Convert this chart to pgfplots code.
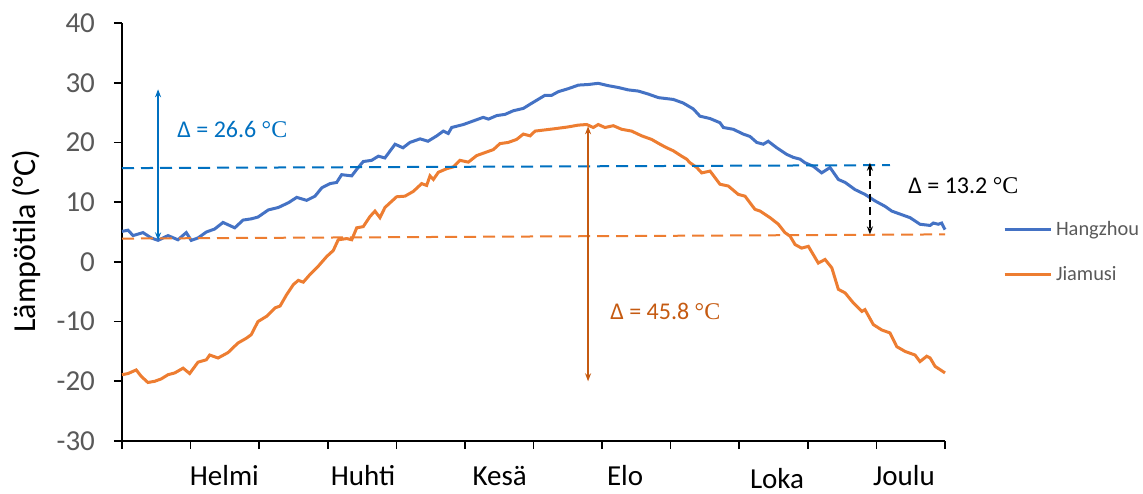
\documentclass[border=0pt]{standalone}
\usepackage{fontspec}
\setmainfont{Carlito}
\newfontfamily\serifsym{Liberation Serif}
\usepackage{pgfplots}
\pgfplotsset{compat=1.18}
\usetikzlibrary{arrows.meta}

\definecolor{hzblue}{HTML}{4472C4}
\definecolor{jmorange}{HTML}{ED7D31}
\definecolor{dblue}{HTML}{0070C0}
\definecolor{dbrown}{HTML}{C55A11}
\definecolor{ticktxt}{HTML}{595959}

\newcommand{\degC}{{\serifsym °C}}

\begin{document}
\begin{tikzpicture}
\useasboundingbox (0,0) rectangle (571.5pt,246.5pt);
\begin{axis}[
  at={(61pt,26pt)}, anchor=south west,
  scale only axis,
  width=411.5pt, height=209pt,
  xmin=0, xmax=365,
  ymin=-30, ymax=40,
  axis lines*=left,
  axis line style={black, line width=0.8pt},
  xtick={0,30.4167,60.8333,91.25,121.6667,152.0833,182.5,212.9167,243.3333,273.75,304.1667,334.5833,365},
  xticklabels={},
  ytick={-30,-20,-10,0,10,20,30,40},
  yticklabels={-30,-20,-10,0,10,20,30,40},
  tick align=outside,
  major tick length=4pt,
  tick style={black, line width=0.8pt},
  yticklabel style={text=ticktxt, font=\fontsize{14.5}{16}\selectfont, xshift=-6pt},
  clip=false,
  legend style={at={(1.070,0.452)}, anchor=west, draw=none, fill=none,
    font=\fontsize{10.2}{13}\selectfont, text=ticktxt, row sep=10pt, inner sep=0pt},
  legend cell align=left,
  legend image code/.code={\draw[#1] (0pt,0pt) -- (23pt,0pt);},
]
% Hangzhou
\addplot[hzblue, line width=1.5pt] coordinates {
(0,5.1)(2.7,5.3)(4.9,4.4)(9.3,4.9)(13.0,4.0)(16.0,3.6)(20.4,4.4)(24.8,3.7)
(28.5,4.9)(30.7,3.6)(33.7,4.0)(37.4,5.0)(41.1,5.5)(44.8,6.6)(50.0,5.7)(53.7,7.0)
(57.3,7.2)(60.3,7.5)(64.9,8.7)(69.3,9.1)(73.8,9.9)(77.5,10.8)(81.9,10.3)(85.6,11.0)
(88.6,12.4)(92.2,13.1)(95.2,13.3)(97.4,14.6)(101.9,14.4)(104.1,15.5)(107.0,16.8)
(110.7,17.0)(113.7,17.7)(116.6,17.4)(121.1,19.7)(124.6,19.1)(127.7,20.0)(132.2,20.6)
(135.7,20.2)(139.6,21.1)(142.5,21.9)(144.7,21.5)(146.2,22.5)(151.4,23.0)(155.8,23.6)
(160.2,24.2)(162.5,23.9)(166.2,24.5)(169.9,24.7)(173.5,25.3)(178.0,25.7)(181.0,26.4)
(183.2,26.9)(187.6,27.9)(190.6,27.9)(193.5,28.5)(197.9,29.0)(202.4,29.6)(206.8,29.7)
(211.2,29.9)(215.7,29.5)(220.1,29.2)(224.5,28.8)(229.0,28.6)(233.4,28.1)(237.9,27.5)
(244.5,27.2)(248.9,26.6)(253.4,25.6)(256.3,24.4)(260.8,24.0)(265.2,23.3)(266.7,22.5)
(271.1,22.2)(275.5,21.4)(278.5,21.0)(281.5,20.0)(284.4,19.7)(286.6,20.2)(290.4,19.1)
(294.8,18.0)(297.7,17.5)(300.7,17.2)(302.9,16.6)(306.6,16.0)(310.3,14.9)(314.0,15.8)
(317.7,13.8)(320.7,13.3)(325.1,12.1)(329.5,11.3)(334.0,10.2)(338.4,9.3)(341.4,8.5)
(345.8,7.9)(349.5,7.4)(353.9,6.3)(358.4,6.1)(359.8,6.5)(362.0,6.3)(363.5,6.5)(365.0,5.4)
};
% Jiamusi
\addplot[jmorange, line width=1.5pt] coordinates {
(0,-18.9)(2.7,-18.7)(6.3,-18.1)(8.6,-19.2)(11.5,-20.2)(14.5,-20.0)(17.4,-19.6)
(20.4,-18.9)(23.4,-18.6)(27.1,-17.8)(30.0,-18.7)(33.7,-16.8)(37.4,-16.4)(38.9,-15.6)
(42.6,-16.1)(47.0,-15.2)(51.4,-13.6)(55.1,-12.8)(57.3,-12.2)(60.3,-10.0)(64.2,-9.1)
(67.9,-7.7)(70.1,-7.4)(73.0,-5.5)(76.0,-3.8)(78.2,-3.1)(80.4,-3.4)(83.4,-2.1)
(87.1,-0.7)(90.8,0.9)(93.7,1.9)(95.9,3.7)(99.7,3.9)(101.9,3.7)(104.1,5.7)(107.0,5.9)
(110.0,7.6)(112.2,8.5)(114.4,7.4)(116.6,9.1)(118.9,9.9)(121.8,10.9)(125.5,11.0)
(129.2,11.8)(132.9,13.1)(135.1,12.8)(136.6,14.4)(138.1,13.8)(140.3,15.0)(144.0,15.6)
(146.9,15.9)(149.9,17.0)(153.6,16.7)(157.3,17.8)(161.0,18.3)(164.7,18.8)(167.6,19.8)
(171.3,20.0)(175.0,20.5)(178.0,21.4)(181.0,21.1)(183.2,21.9)(187.6,22.1)(192.0,22.3)
(197.9,22.6)(202.4,22.9)(206.1,23.0)(209.0,22.5)(211.2,23.0)(214.2,22.5)(217.9,22.8)
(221.6,22.2)(226.0,21.9)(230.5,21.1)(234.9,20.5)(238.6,19.7)(241.6,19.1)(244.5,18.6)
(248.2,17.7)(250.4,17.2)(251.9,16.6)(254.9,15.8)(257.1,14.9)(260.8,15.2)(265.2,13.0)
(268.9,12.7)(273.3,11.3)(276.3,11.0)(280.7,8.8)(283.0,8.5)(287.4,7.4)(291.1,6.3)
(294.0,4.9)(296.3,4.3)(298.5,2.9)(301.4,2.3)(304.4,2.6)(308.8,-0.2)(311.8,0.4)
(314.8,-1.0)(317.7,-4.6)(320.7,-5.2)(324.4,-6.9)(328.1,-8.3)(329.5,-8.0)(333.2,-10.5)
(336.9,-11.4)(340.6,-11.9)(343.6,-14.2)(347.3,-15.0)(351.7,-15.6)(353.9,-16.7)
(356.9,-15.8)(358.4,-16.1)(360.6,-17.5)(365.0,-18.6)
};
\legend{Hangzhou, Jiamusi}
% reference levels
\addplot[dblue, line width=1pt, dash pattern=on 6pt off 3.5pt, forget plot] coordinates {(0,15.7)(340.6,16.2)};
\addplot[jmorange, line width=1pt, dash pattern=on 6pt off 3.5pt, forget plot] coordinates {(0,3.9)(365,4.6)};
% arrows
\draw[dblue, line width=0.9pt, {Stealth[length=4pt,width=3pt]}-{Stealth[length=4pt,width=3pt]}]
  (axis cs:16,3.6) -- (axis cs:16,28.9);
\draw[dbrown, line width=0.9pt, {Stealth[length=4pt,width=3pt]}-{Stealth[length=4pt,width=3pt]}]
  (axis cs:206.7,22.7) -- (axis cs:206.7,-20.0);
\draw[black, line width=0.9pt, dash pattern=on 4pt off 2.5pt, {Stealth[length=4pt,width=3pt]}-{Stealth[length=4pt,width=3pt]}]
  (axis cs:331.7,16.6) -- (axis cs:331.7,4.6);
% annotations
\node[anchor=west, inner sep=0pt, text=dblue, font=\fontsize{12}{14}\selectfont] at (axis cs:24.4,22.2) {Δ = 26.6 \degC};
\node[anchor=west, inner sep=0pt, text=dbrown, font=\fontsize{12}{14}\selectfont] at (axis cs:216.4,-8.3) {Δ = 45.8 \degC};
\node[anchor=west, inner sep=0pt, text=black, font=\fontsize{12}{14}\selectfont] at (axis cs:348.6,12.8) {Δ = 13.2 \degC};
% month labels
\begin{scope}[every node/.style={anchor=base, inner sep=0pt, font=\fontsize{14.5}{16}\selectfont}]
\node at (axis cs:45.4,-37.4) {Helmi};
\node at (axis cs:106.9,-37.4) {Huhti};
\node at (axis cs:167.5,-37.4) {Kesä};
\node at (axis cs:223.1,-37.4) {Elo};
\node at (axis cs:290.5,-37.9) {Loka};
\node at (axis cs:346.8,-37.4) {Joulu};
\end{scope}
% y label
\node[rotate=90, font=\fontsize{16}{18}\selectfont] at (rel axis cs:-0.116,0.478) {Lämpötila (°C)};
\end{axis}
\end{tikzpicture}
\end{document}
